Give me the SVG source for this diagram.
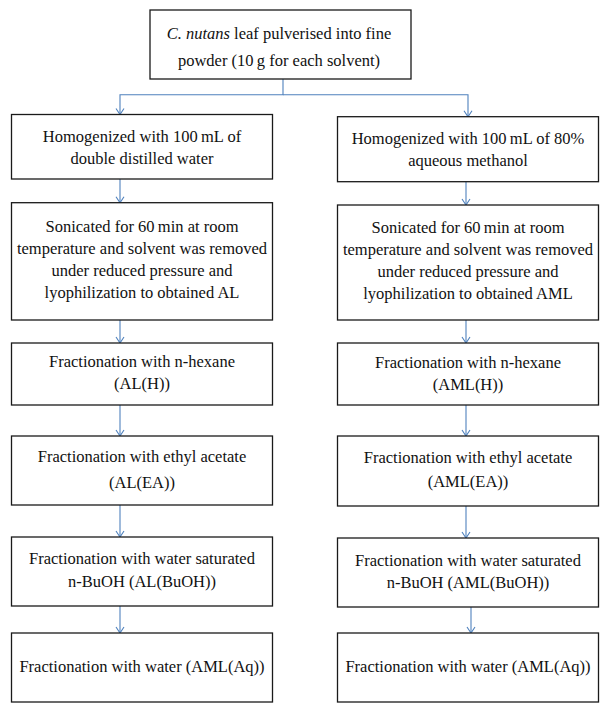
<svg xmlns="http://www.w3.org/2000/svg" width="609" height="713" viewBox="0 0 609 713">
<style>
.box{fill:#fff;stroke:#1a1a1a;stroke-width:1.3}
.t{font-family:"Liberation Serif","Times New Roman",serif;font-size:16.5px;fill:#111;text-anchor:middle}
.c{fill:none;stroke:#4F81BD;stroke-width:1.1}
</style>
<defs>
<marker id="ah" viewBox="-1 -5 8 10" refX="6" refY="0" markerWidth="8" markerHeight="10" markerUnits="userSpaceOnUse" orient="auto">
<path d="M0,-4 L6,0 L0,4" fill="none" stroke="#4F81BD" stroke-width="1.1"/>
</marker>
</defs>
<rect width="609" height="713" fill="#fff"/>
<g id="connectors">
<path class="c" d="M283,79 V94.7 H120 V114.5" marker-end="url(#ah)"/>
<path class="c" d="M283,94.7 H468 V116.7" marker-end="url(#ah)"/>
<path class="c" d="M120,179 V202.7" marker-end="url(#ah)"/>
<path class="c" d="M120,320 V343" marker-end="url(#ah)"/>
<path class="c" d="M120,405 V436" marker-end="url(#ah)"/>
<path class="c" d="M120,505 V537" marker-end="url(#ah)"/>
<path class="c" d="M120,606 V633" marker-end="url(#ah)"/>
<path class="c" d="M466,181.7 V205" marker-end="url(#ah)"/>
<path class="c" d="M466,320 V343" marker-end="url(#ah)"/>
<path class="c" d="M466,405 V436" marker-end="url(#ah)"/>
<path class="c" d="M466,506 V538" marker-end="url(#ah)"/>
<path class="c" d="M471,607 V633" marker-end="url(#ah)"/>
</g>
<g id="top">
<rect class="box" x="150" y="10" width="261" height="69"/>
<text class="t" x="279" y="38.5"><tspan font-style="italic">C. nutans</tspan> leaf pulverised into fine</text>
<text class="t" x="279" y="66">powder (10&#8201;g for each solvent)</text>
</g>
<g id="L1">
<rect class="box" x="11.5" y="114.5" width="261" height="64.5"/>
<text class="t" x="142" y="141.5">Homogenized with 100&#8201;mL of</text>
<text class="t" x="142" y="163.5">double distilled water</text>
</g>
<g id="R1">
<rect class="box" x="337.5" y="116.7" width="261" height="65"/>
<text class="t" x="468" y="143.5">Homogenized with 100&#8201;mL of 80%</text>
<text class="t" x="468" y="165.5">aqueous methanol</text>
</g>
<g id="L2">
<rect class="box" x="11.5" y="202.7" width="261" height="117.3"/>
<text class="t" x="142" y="232">Sonicated for 60&#8201;min at room</text>
<text class="t" x="142" y="254">temperature and solvent was removed</text>
<text class="t" x="142" y="276">under reduced pressure and</text>
<text class="t" x="142" y="298">lyophilization to obtained AL</text>
</g>
<g id="R2">
<rect class="box" x="337.5" y="205" width="261" height="115"/>
<text class="t" x="468" y="233">Sonicated for 60&#8201;min at room</text>
<text class="t" x="468" y="255">temperature and solvent was removed</text>
<text class="t" x="468" y="277">under reduced pressure and</text>
<text class="t" x="468" y="299">lyophilization to obtained AML</text>
</g>
<g id="L3">
<rect class="box" x="11.5" y="343" width="261" height="62"/>
<text class="t" x="142" y="367">Fractionation with n-hexane</text>
<text class="t" x="142" y="389">(AL(H))</text>
</g>
<g id="R3">
<rect class="box" x="337.5" y="343" width="261" height="62"/>
<text class="t" x="468" y="368">Fractionation with n-hexane</text>
<text class="t" x="468" y="390">(AML(H))</text>
</g>
<g id="L4">
<rect class="box" x="11.5" y="436" width="261" height="69"/>
<text class="t" x="142" y="462">Fractionation with ethyl acetate</text>
<text class="t" x="142" y="488">(AL(EA))</text>
</g>
<g id="R4">
<rect class="box" x="337.5" y="436" width="261" height="70"/>
<text class="t" x="468" y="463">Fractionation with ethyl acetate</text>
<text class="t" x="468" y="487">(AML(EA))</text>
</g>
<g id="L5">
<rect class="box" x="11.5" y="537" width="261" height="69"/>
<text class="t" x="142" y="564">Fractionation with water saturated</text>
<text class="t" x="142" y="587">n-BuOH (AL(BuOH))</text>
</g>
<g id="R5">
<rect class="box" x="337.5" y="538" width="261" height="69"/>
<text class="t" x="468" y="566">Fractionation with water saturated</text>
<text class="t" x="468" y="588">n-BuOH (AML(BuOH))</text>
</g>
<g id="L6">
<rect class="box" x="11.5" y="633" width="261" height="69"/>
<text class="t" x="142" y="672">Fractionation with water (AML(Aq))</text>
</g>
<g id="R6">
<rect class="box" x="337.5" y="633" width="261" height="69"/>
<text class="t" x="468" y="672">Fractionation with water (AML(Aq))</text>
</g>
</svg>
